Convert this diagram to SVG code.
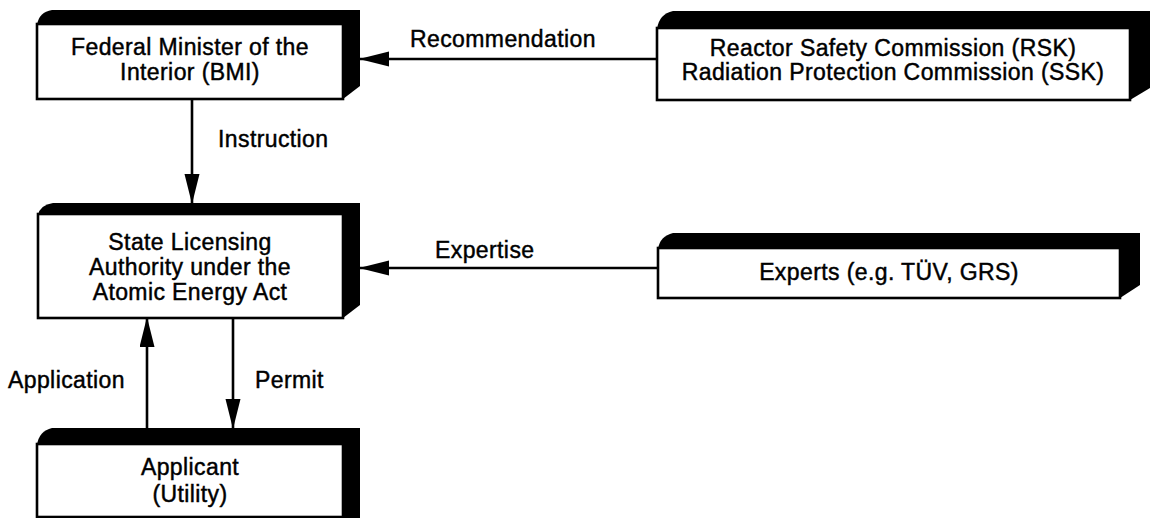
<svg xmlns="http://www.w3.org/2000/svg" width="1156" height="518" viewBox="0 0 1156 518">
  <style>
    .face { fill: #ffffff; stroke: #000000; stroke-width: 2.6; }
    .depth { fill: #000000; }
    .label { font-family: "Liberation Sans", Arial, Helvetica, sans-serif; font-size: 23px; letter-spacing: 0.4px; fill: #000000; stroke: #000000; stroke-width: 0.45; }
    .mid { text-anchor: middle; }
    .wire { stroke: #000000; stroke-width: 2.6; fill: none; }
  </style>
  <defs>
    <marker id="head" markerUnits="userSpaceOnUse" markerWidth="30" markerHeight="16" refX="29" refY="7.5" orient="auto">
      <path d="M0,0 L30,7.5 L0,15 Z" fill="#000000"/>
    </marker>
  </defs>
  <rect width="1156" height="518" fill="#ffffff"/>

  <!-- Federal Minister of the Interior -->
  <g id="bmi">
    <path class="depth" d="M37,25 Q39,12 52,10 H360 V86 L343,99 Z"/>
    <rect class="face" x="37" y="24" width="306" height="75"/>
    <text class="label mid" x="190" y="55">Federal Minister of the</text>
    <text class="label mid" x="190" y="80">Interior (BMI)</text>
  </g>

  <!-- Commissions -->
  <g id="rsk-ssk">
    <path class="depth" d="M657,29 Q659,14 673,11 H1150 V88 L1130,100 Z"/>
    <rect class="face" x="657" y="28" width="473" height="72"/>
    <text class="label mid" x="893" y="56">Reactor Safety Commission (RSK)</text>
    <text class="label mid" x="893" y="80">Radiation Protection Commission (SSK)</text>
  </g>

  <!-- State licensing authority -->
  <g id="state-authority">
    <path class="depth" d="M38,215 Q40,205 53,203 H360 V305 L343,318 Z"/>
    <rect class="face" x="38" y="214" width="305" height="104"/>
    <text class="label mid" x="190" y="250">State Licensing</text>
    <text class="label mid" x="190" y="275">Authority under the</text>
    <text class="label mid" x="190" y="300">Atomic Energy Act</text>
  </g>

  <!-- Experts -->
  <g id="experts">
    <path class="depth" d="M658,249 Q660,236 673,233 H1140 V285 L1120,298 Z"/>
    <rect class="face" x="658" y="248" width="462" height="50"/>
    <text class="label mid" x="889" y="280">Experts (e.g. TÜV, GRS)</text>
  </g>

  <!-- Applicant -->
  <g id="applicant">
    <path class="depth" d="M37,445 Q39,431 52,428 H360 V518 H343 Z"/>
    <rect class="face" x="37" y="444" width="306" height="73"/>
    <text class="label mid" x="190" y="475">Applicant</text>
    <text class="label mid" x="190" y="502">(Utility)</text>
  </g>

  <!-- Connectors -->
  <g id="connectors">
    <line class="wire" x1="657" y1="59" x2="360" y2="59" marker-end="url(#head)"/>
    <text class="label" x="410" y="47">Recommendation</text>

    <line class="wire" x1="192" y1="99" x2="192" y2="203" marker-end="url(#head)"/>
    <text class="label" x="218" y="147">Instruction</text>

    <line class="wire" x1="658" y1="268" x2="360" y2="268" marker-end="url(#head)"/>
    <text class="label" x="435" y="258">Expertise</text>

    <line class="wire" x1="147" y1="428" x2="147" y2="318" marker-end="url(#head)"/>
    <text class="label" x="8" y="388">Application</text>

    <line class="wire" x1="233" y1="318" x2="233" y2="428" marker-end="url(#head)"/>
    <text class="label" x="255" y="388">Permit</text>
  </g>
</svg>
